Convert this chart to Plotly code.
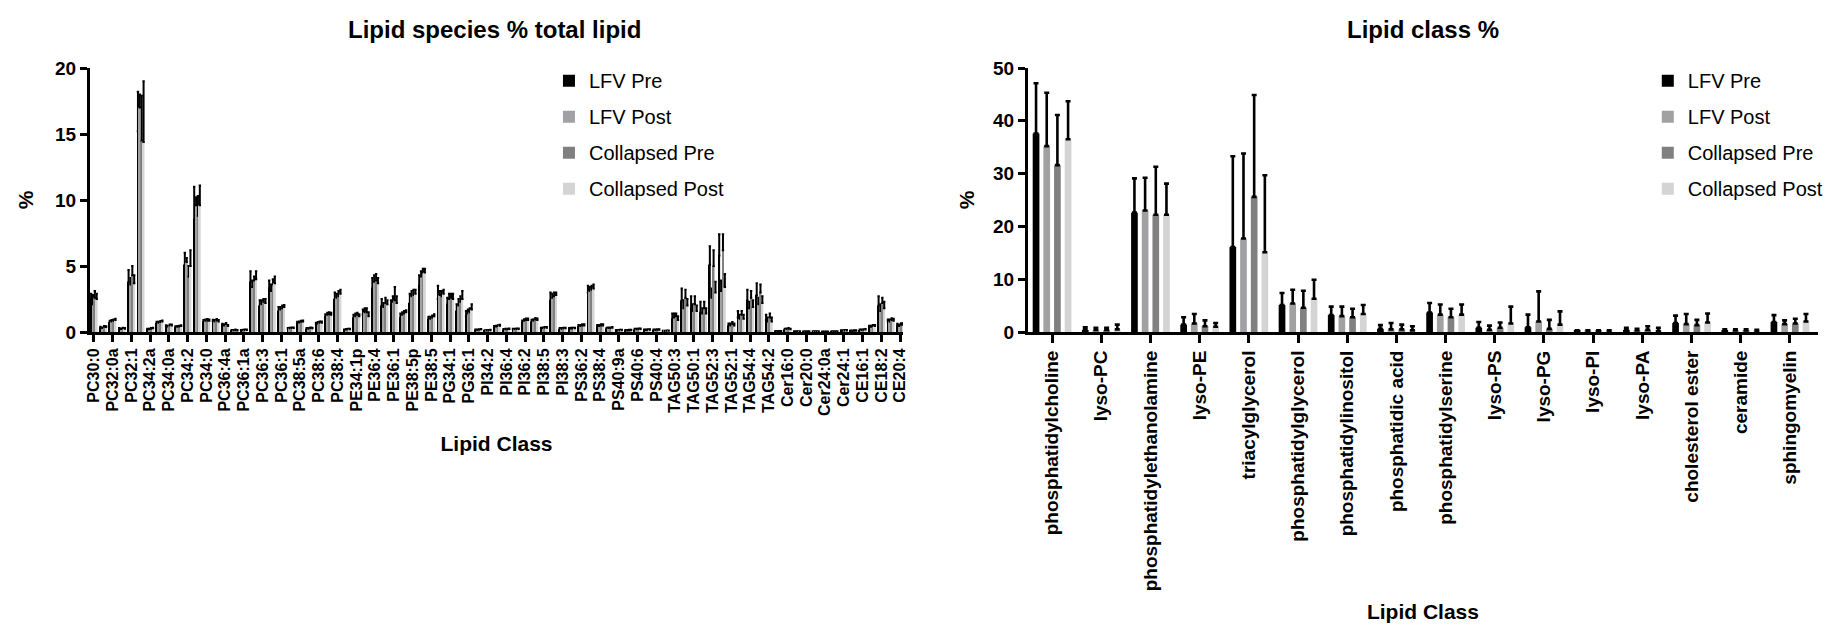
import plotly.graph_objects as go

# ---------------- Left chart: lipid species (% total lipid) ----------------
species_labels = [
    "PC30:0", "PC32:0a", "PC32:1", "PC34:2a", "PC34:0a", "PC34:2", "PC34:0",
    "PC36:4a", "PC36:1a", "PC36:3", "PC36:1", "PC38:5a", "PC38:6", "PC38:4",
    "PE34:1p", "PE36:4", "PE36:1", "PE38:5p", "PE38:5", "PG34:1", "PG36:1",
    "PI34:2", "PI36:4", "PI36:2", "PI38:5", "PI38:3", "PS36:2", "PS38:4",
    "PS40:9a", "PS40:6", "PS40:4", "TAG50:3", "TAG50:1", "TAG52:3", "TAG52:1",
    "TAG54:4", "TAG54:2", "Cer16:0", "Cer20:0", "Cer24:0a", "Cer24:1",
    "CE16:1", "CE18:2", "CE20:4",
]
# 87 species positions; every other one carries a tick label
n_species = 87
species_index = list(range(n_species))
labelled_index = species_index[::2]

sp_lfv_pre = [
    2.4, 0.35, 0.75, 0.25, 3.8, 15.2, 0.2, 0.7, 0.45, 0.38,
    5.1, 8.5, 0.8, 0.82, 0.55, 0.12, 0.12, 3.8, 2.0, 3.3,
    1.6, 0.25, 0.7, 0.25, 0.6, 1.2, 2.5, 0.15, 1.1, 1.3,
    3.3, 2.0, 2.0, 1.1, 2.2, 3.5, 1.0, 2.5, 2.1, 1.6,
    1.2, 0.15, 0.1, 0.4, 0.18, 0.2, 0.75, 0.8, 0.28, 2.4,
    0.25, 0.25, 0.45, 3.0, 0.45, 0.28, 0.12, 0.12, 0.2, 0.15,
    0.15, 0.08, 1.0, 2.4, 1.8, 1.5, 5.1, 5.8, 0.5, 1.1,
    2.4, 2.8, 0.9, 0.05, 0.2, 0.03, 0.03, 0.03, 0.02, 0.03,
    0.1, 0.08, 0.15, 0.4, 2.0, 0.8, 0.5,
]
sp_lfv_post = [
    2.1, 0.3, 0.8, 0.22, 3.6, 17.0, 0.2, 0.7, 0.42, 0.4,
    5.3, 9.6, 0.85, 0.8, 0.5, 0.13, 0.14, 3.4, 2.1, 3.1,
    1.7, 0.28, 0.72, 0.25, 0.65, 1.3, 2.6, 0.18, 1.2, 1.5,
    3.8, 1.9, 2.3, 1.3, 2.7, 4.2, 1.0, 2.8, 2.5, 2.0,
    1.4, 0.15, 0.12, 0.42, 0.2, 0.2, 0.85, 0.85, 0.3, 2.6,
    0.25, 0.27, 0.45, 3.1, 0.45, 0.3, 0.12, 0.12, 0.2, 0.16,
    0.16, 0.08, 1.1, 1.8, 1.6, 1.4, 2.6, 3.1, 0.5, 1.0,
    1.8, 2.1, 0.8, 0.05, 0.22, 0.03, 0.03, 0.03, 0.02, 0.03,
    0.1, 0.08, 0.15, 0.4, 1.6, 0.8, 0.45,
]
sp_coll_pre = [
    2.6, 0.4, 0.85, 0.28, 4.3, 14.5, 0.25, 0.75, 0.5, 0.42,
    4.2, 8.8, 0.88, 0.88, 0.6, 0.15, 0.15, 3.9, 2.3, 3.6,
    1.8, 0.3, 0.78, 0.3, 0.7, 1.35, 2.7, 0.2, 1.3, 1.5,
    3.9, 2.2, 2.4, 1.4, 2.8, 4.5, 1.1, 2.7, 2.6, 2.3,
    1.5, 0.18, 0.12, 0.45, 0.2, 0.22, 0.9, 0.95, 0.32, 2.7,
    0.28, 0.27, 0.5, 3.2, 0.5, 0.3, 0.14, 0.14, 0.22, 0.17,
    0.17, 0.09, 1.2, 2.6, 2.1, 1.8, 5.0, 6.2, 0.6, 1.3,
    2.6, 3.0, 1.1, 0.06, 0.25, 0.04, 0.03, 0.04, 0.03, 0.03,
    0.12, 0.1, 0.17, 0.45, 2.2, 0.9, 0.55,
]
sp_coll_post = [
    2.5, 0.38, 0.9, 0.25, 3.7, 14.4, 0.28, 0.8, 0.5, 0.45,
    5.0, 9.6, 0.85, 0.8, 0.45, 0.12, 0.15, 4.0, 2.2, 3.7,
    1.9, 0.3, 0.8, 0.28, 0.7, 1.3, 2.9, 0.2, 1.2, 1.2,
    3.7, 2.1, 2.2, 1.5, 2.9, 4.5, 1.2, 2.9, 2.5, 2.5,
    1.7, 0.2, 0.14, 0.48, 0.22, 0.22, 0.9, 0.9, 0.33, 2.8,
    0.28, 0.28, 0.5, 3.3, 0.5, 0.32, 0.14, 0.14, 0.22, 0.17,
    0.17, 0.1, 0.9, 2.0, 1.6, 1.4, 3.0, 3.4, 0.5, 1.0,
    1.9, 2.2, 0.8, 0.06, 0.2, 0.03, 0.03, 0.03, 0.02, 0.03,
    0.12, 0.1, 0.18, 0.45, 1.8, 0.85, 0.55,
]
sp_lfv_pre_sd = [
    0.5, 0.05, 0.1, 0.05, 0.9, 3.0, 0.05, 0.08, 0.06, 0.06,
    0.9, 2.5, 0.1, 0.1, 0.08, 0.03, 0.03, 0.8, 0.4, 0.6,
    0.3, 0.05, 0.08, 0.05, 0.1, 0.15, 0.5, 0.04, 0.2, 0.4,
    0.8, 0.5, 0.4, 0.3, 0.7, 0.8, 0.15, 1.0, 0.5, 0.5,
    0.4, 0.03, 0.03, 0.06, 0.04, 0.04, 0.12, 0.12, 0.05, 0.6,
    0.05, 0.05, 0.08, 0.5, 0.08, 0.05, 0.03, 0.03, 0.04, 0.03,
    0.03, 0.02, 0.4, 0.9, 0.9, 0.8, 1.4, 1.6, 0.15, 0.5,
    0.8, 0.9, 0.4, 0.02, 0.05, 0.02, 0.02, 0.02, 0.01, 0.02,
    0.03, 0.03, 0.04, 0.08, 0.7, 0.15, 0.12,
]
sp_lfv_post_sd = [
    0.7, 0.05, 0.1, 0.05, 0.5, 1.0, 0.05, 0.08, 0.06, 0.06,
    0.3, 0.6, 0.1, 0.1, 0.08, 0.03, 0.03, 0.5, 0.3, 0.5,
    0.2, 0.05, 0.08, 0.05, 0.1, 0.15, 0.3, 0.04, 0.2, 0.3,
    0.5, 0.3, 0.4, 0.2, 0.4, 0.4, 0.15, 0.3, 0.4, 0.5,
    0.3, 0.03, 0.03, 0.06, 0.04, 0.04, 0.12, 0.12, 0.05, 0.3,
    0.05, 0.05, 0.08, 0.3, 0.08, 0.05, 0.03, 0.03, 0.04, 0.03,
    0.03, 0.02, 0.3, 0.6, 0.5, 0.4, 0.7, 0.8, 0.15, 0.3,
    0.5, 0.5, 0.3, 0.02, 0.05, 0.02, 0.02, 0.02, 0.01, 0.02,
    0.03, 0.03, 0.04, 0.08, 0.5, 0.15, 0.12,
]
sp_coll_pre_sd = [
    0.5, 0.05, 0.1, 0.05, 0.7, 3.4, 0.05, 0.08, 0.06, 0.06,
    0.8, 1.5, 0.1, 0.1, 0.08, 0.03, 0.03, 0.3, 0.2, 0.4,
    0.2, 0.05, 0.08, 0.05, 0.1, 0.15, 0.4, 0.04, 0.15, 0.3,
    0.5, 0.4, 1.0, 0.2, 0.4, 0.3, 0.15, 0.4, 0.3, 0.4,
    0.3, 0.03, 0.03, 0.06, 0.04, 0.04, 0.12, 0.12, 0.05, 0.3,
    0.05, 0.05, 0.08, 0.3, 0.08, 0.05, 0.03, 0.03, 0.04, 0.03,
    0.03, 0.02, 0.2, 0.6, 0.6, 0.5, 1.2, 1.2, 0.15, 0.3,
    0.5, 0.6, 0.3, 0.02, 0.05, 0.02, 0.02, 0.02, 0.01, 0.02,
    0.03, 0.03, 0.04, 0.08, 0.4, 0.15, 0.12,
]
sp_coll_post_sd = [
    0.4, 0.05, 0.1, 0.05, 0.6, 4.6, 0.05, 0.08, 0.06, 0.06,
    1.2, 1.5, 0.1, 0.1, 0.08, 0.03, 0.03, 0.6, 0.3, 0.5,
    0.15, 0.05, 0.08, 0.05, 0.1, 0.15, 0.3, 0.04, 0.15, 0.3,
    0.4, 0.3, 0.5, 0.15, 0.3, 0.3, 0.15, 0.3, 0.4, 0.6,
    0.4, 0.03, 0.03, 0.06, 0.04, 0.04, 0.12, 0.12, 0.05, 0.2,
    0.05, 0.05, 0.08, 0.3, 0.08, 0.05, 0.03, 0.03, 0.04, 0.03,
    0.03, 0.02, 0.3, 0.5, 0.4, 0.4, 0.8, 1.0, 0.15, 0.3,
    0.5, 0.5, 0.3, 0.02, 0.05, 0.02, 0.02, 0.02, 0.01, 0.02,
    0.03, 0.03, 0.04, 0.08, 0.5, 0.15, 0.12,
]

# ---------------- Right chart: lipid class % ----------------
classes = [
    "phosphatidylcholine", "lyso-PC", "phosphatidylethanolamine", "lyso-PE",
    "triacylglycerol", "phosphatidylglycerol", "phosphatidylinositol",
    "phosphatidic acid", "phosphatidylserine", "lyso-PS", "lyso-PG", "lyso-PI",
    "lyso-PA", "cholesterol ester", "ceramide", "sphingomyelin",
]
cl_lfv_pre = [37.6, 0.4, 22.6, 1.4, 16.1, 5.1, 3.2, 0.6, 3.7, 0.8, 0.9, 0.2, 0.4, 1.7, 0.3, 1.9]
cl_lfv_pre_sd = [9.5, 0.5, 6.5, 1.4, 17.2, 2.3, 1.6, 0.7, 1.8, 1.1, 2.4, 0.1, 0.4, 1.4, 0.2, 1.3]
cl_lfv_post = [35.2, 0.4, 23.0, 1.6, 17.7, 5.4, 3.0, 0.5, 3.3, 0.4, 2.0, 0.2, 0.3, 1.5, 0.3, 1.5]
cl_lfv_post_sd = [10.1, 0.4, 6.2, 1.8, 16.1, 2.6, 1.8, 1.2, 1.9, 0.8, 5.7, 0.1, 0.3, 1.9, 0.2, 0.7]
cl_coll_pre = [31.6, 0.4, 22.2, 1.1, 25.6, 4.6, 2.8, 0.5, 2.8, 0.8, 0.6, 0.2, 0.4, 1.3, 0.3, 1.6]
cl_coll_pre_sd = [9.5, 0.4, 9.1, 1.1, 19.3, 3.2, 1.6, 0.9, 1.6, 1.0, 1.7, 0.1, 0.7, 1.0, 0.2, 0.9]
cl_coll_post = [36.5, 0.5, 22.2, 1.0, 15.1, 6.3, 3.4, 0.3, 3.3, 1.6, 1.4, 0.2, 0.2, 1.8, 0.2, 2.0]
cl_coll_post_sd = [7.2, 0.9, 5.9, 0.7, 14.6, 3.6, 1.7, 0.8, 1.9, 3.2, 2.5, 0.1, 0.6, 1.7, 0.2, 1.4]

series_names = ["LFV Pre", "LFV Post", "Collapsed Pre", "Collapsed Post"]
series_colors = ["#000000", "#a1a1a4", "#808080", "#d4d4d4"]

left_values = [sp_lfv_pre, sp_lfv_post, sp_coll_pre, sp_coll_post]
left_sd = [sp_lfv_pre_sd, sp_lfv_post_sd, sp_coll_pre_sd, sp_coll_post_sd]
right_values = [cl_lfv_pre, cl_lfv_post, cl_coll_pre, cl_coll_post]
right_sd = [cl_lfv_pre_sd, cl_lfv_post_sd, cl_coll_pre_sd, cl_coll_post_sd]

FONT = "Arial, Liberation Sans, Helvetica, sans-serif"

fig = go.Figure()

# left chart bars (group layout: 4 adjacent narrow bars)
L_SLOT = 0.2
for k in range(4):
    fig.add_trace(go.Bar(
        x=species_index, y=left_values[k], name=series_names[k],
        marker=dict(color=series_colors[k], line=dict(width=0)),
        width=L_SLOT * 0.95, offset=-2 * L_SLOT + k * L_SLOT,
        error_y=dict(type="data", array=left_sd[k], arrayminus=[0] * n_species,
                     symmetric=False, color="black", thickness=2, width=1.2),
        xaxis="x", yaxis="y", legend="legend", legendgroup="L%d" % k,
        showlegend=True,
    ))

# right chart bars
R_SLOT = 0.217
R_W = 0.136
n_classes = len(classes)
class_index = list(range(n_classes))
for k in range(4):
    fig.add_trace(go.Bar(
        x=class_index, y=right_values[k], name=series_names[k],
        marker=dict(color=series_colors[k], line=dict(width=0)),
        width=R_W, offset=-(3 * R_SLOT + R_W) / 2 + k * R_SLOT,
        error_y=dict(type="data", array=right_sd[k], arrayminus=[0] * n_classes,
                     symmetric=False, color="black", thickness=2.6, width=2.5),
        xaxis="x2", yaxis="y2", legend="legend2", legendgroup="R%d" % k,
        showlegend=True,
    ))

axis_common = dict(
    showline=True, linewidth=3, linecolor="black", ticks="outside",
    tickwidth=3, tickcolor="black", showgrid=False, zeroline=False,
    automargin=False,
)

fig.update_layout(
    width=1848, height=627,
    paper_bgcolor="white", plot_bgcolor="white",
    margin=dict(l=82, r=38, t=60, b=303),
    barmode="overlay",
    font=dict(family=FONT, color="black"),
    xaxis=dict(
        domain=[0, 0.4705], range=[-0.42, 86.3], anchor="y",
        tickmode="array", tickvals=labelled_index, ticktext=species_labels,
        tickangle=-90, ticklen=7,
        tickfont=dict(family=FONT, size=16, weight="bold"),
        title=dict(text="Lipid Class", font=dict(family=FONT, size=21, weight="bold"),
                   standoff=22),
        **axis_common,
    ),
    yaxis=dict(
        domain=[0, 1], range=[0, 20], anchor="x",
        tickmode="array", tickvals=[0, 5, 10, 15, 20], ticklen=7,
        tickfont=dict(family=FONT, size=19, weight="bold"),
        title=dict(text="%", font=dict(family=FONT, size=21, weight="bold"), standoff=16),
        **axis_common,
    ),
    xaxis2=dict(
        domain=[0.5428, 1], range=[-0.49, 15.57], anchor="y2",
        tickmode="array", tickvals=class_index, ticktext=classes,
        tickangle=-90, ticklen=8,
        tickfont=dict(family=FONT, size=19, weight="bold"),
        title=dict(text="Lipid Class", font=dict(family=FONT, size=21, weight="bold"),
                   standoff=14),
        **axis_common,
    ),
    yaxis2=dict(
        domain=[0, 1], range=[0, 50], anchor="x2",
        tickmode="array", tickvals=[0, 10, 20, 30, 40, 50], ticklen=7,
        tickfont=dict(family=FONT, size=19, weight="bold"),
        title=dict(text="%", font=dict(family=FONT, size=21, weight="bold"), standoff=13),
        **axis_common,
    ),
    legend=dict(
        x=0.2656, y=1.026, xanchor="left", yanchor="top",
        font=dict(family=FONT, size=20), bgcolor="rgba(0,0,0,0)",
        tracegroupgap=7, traceorder="grouped",
    ),
    legend2=dict(
        x=0.9015, y=1.026, xanchor="left", yanchor="top",
        font=dict(family=FONT, size=20), bgcolor="rgba(0,0,0,0)",
        tracegroupgap=7, traceorder="grouped",
    ),
    annotations=[
        dict(text="Lipid species % total lipid", xref="paper", yref="paper",
             x=0.2338, y=1.144, xanchor="center", yanchor="middle", showarrow=False,
             font=dict(family=FONT, size=24, weight="bold")),
        dict(text="Lipid class %", xref="paper", yref="paper",
             x=0.7714, y=1.144, xanchor="center", yanchor="middle", showarrow=False,
             font=dict(family=FONT, size=24, weight="bold")),
    ],
)

fig.write_html("out.html")
